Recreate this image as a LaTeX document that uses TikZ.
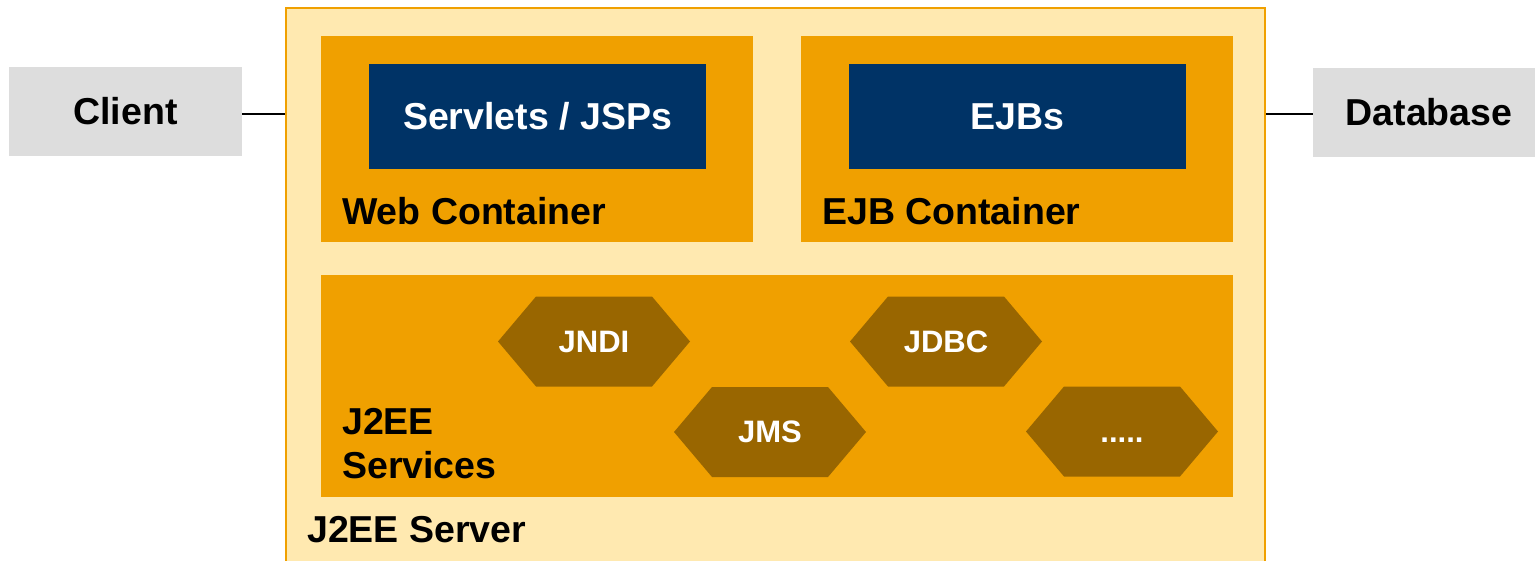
\documentclass[tikz,border=0pt]{standalone}
\usepackage{fontspec}
\setmainfont{Liberation Sans}
\definecolor{outerfill}{HTML}{FFE9B0}
\definecolor{orng}{HTML}{F0A000}
\definecolor{navy}{HTML}{003366}
\definecolor{hexbrown}{HTML}{996600}
\definecolor{greybox}{HTML}{DDDDDD}
\begin{document}
\begin{tikzpicture}[x=1pt,y=-1pt,
  big/.style={font=\fontsize{37.5}{44}\selectfont\bfseries},
  small/.style={font=\fontsize{31}{36}\selectfont\bfseries},
  sidebox/.style={fill=greybox,draw=none,minimum width=233pt,minimum height=89pt,inner sep=0pt,big},
  container/.style={fill=orng,draw=none,inner sep=0pt},
  bluebox/.style={fill=navy,draw=none,text=white,minimum width=337pt,minimum height=105pt,inner sep=0pt,big},
  lbl/.style={anchor=west,inner sep=0pt,big,align=left},
  hexlabel/.style={text=white,small,inner sep=0pt},
  hexfill/.style={fill=hexbrown},
  conn/.style={draw=black,line width=2.5pt}]
\useasboundingbox (0,0) rectangle (1535,560);
\clip (0,0) rectangle (1535,560);
% outer server box
\node[fill=outerfill,draw=orng,line width=2pt,minimum width=979pt,minimum height=570pt,inner sep=0pt] (server) at (775.5,293) {};
% side boxes
\node[sidebox] (client) at (125.5,111.5) {Client};
\node[sidebox,minimum width=222pt,text width=222pt,align=center] (db) at (1424,112) {\hspace*{10pt}Database};
\draw[conn] ([yshift=-2.5pt]client.east) -- ([yshift=-2.5pt]server.west |- client.east);
\draw[conn] ([yshift=-2pt]server.east |- db.west) -- ([yshift=-2pt]db.west);
% containers
\node[container,minimum width=432pt,minimum height=206pt] (web) at (537,139) {};
\node[container,minimum width=432pt,minimum height=206pt] (ejb) at (1017,139) {};
\node[container,minimum width=912pt,minimum height=222pt] (svc) at (777,386) {};
\node[bluebox] (servlets) at (537.5,116.5) {Servlets / JSPs};
\node[bluebox] (ejbs) at (1017.5,116.5) {EJBs};
\node[lbl] (weblbl) at (342,211) {Web Container};
\node[lbl] (ejblbl) at (822,211) {EJB Container};
\node[lbl,font=\fontsize{37.5}{44}\selectfont\bfseries] (svclbl) at (342,444) {J2EE\\Services};
\node[lbl] (srvlbl) at (307,530) {J2EE Server};
% hexagons
\foreach \n/\cx/\cy/\t in {jndi/594/341.5/{JNDI}, jdbc/946/341.5/{JDBC}, jms/770/432/{JMS}, more/1122/431.5/{{.....}}}{
  \fill[hexfill] (\cx-96,\cy) -- (\cx-58,\cy-45) -- (\cx+58,\cy-45) -- (\cx+96,\cy) -- (\cx+58,\cy+45) -- (\cx-58,\cy+45) -- cycle;
  \node[hexlabel] (\n) at (\cx,\cy) {\vphantom{J}\t};
}
\end{tikzpicture}
\end{document}
